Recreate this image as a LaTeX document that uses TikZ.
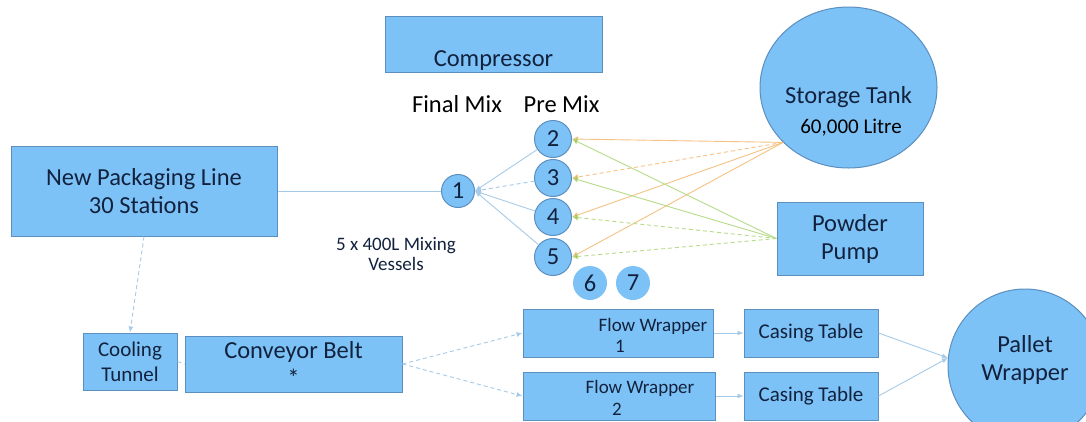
\documentclass[tikz,border=0pt]{standalone}
\usepackage{fontspec}
\setmainfont{Carlito}
\usetikzlibrary{arrows.meta, positioning, calc, shapes}
\definecolor{boxfill}{RGB}{125,194,246}
\definecolor{boxedge}{RGB}{92,142,190}
\definecolor{ink}{RGB}{18,34,62}
\definecolor{pipeblue}{RGB}{166,203,233}
\definecolor{feedorange}{RGB}{246,194,132}
\definecolor{feedgreen}{RGB}{182,220,136}
\definecolor{tipolive}{RGB}{176,184,60}
\newcommand{\sizeL}{\fontsize{24.5}{28}\selectfont}
\newcommand{\sizeM}{\fontsize{21}{25}\selectfont}
\newcommand{\sizeS}{\fontsize{19}{20}\selectfont}
\tikzset{
  unit/.style={draw=boxedge, fill=boxfill, line width=1pt, inner sep=0pt, text=ink, align=center},
  vessel/.style={circle, draw=boxedge, fill=boxfill, line width=1pt, inner sep=0pt, text=ink, font=\sizeL},
  spare/.style={circle, fill=boxfill, inner sep=0pt, minimum size=34pt, text=ink, font=\sizeL},
  txt/.style={inner sep=0pt, text=ink, align=center},
  pipe/.style={draw=pipeblue, line width=0.9pt},
  tip/.style={-{Latex[length=6pt, width=5pt]}},
  oline/.style={draw=feedorange, line width=0.9pt, -{Latex[length=6pt, width=6pt, fill=tipolive]}},
  gline/.style={draw=feedgreen, line width=0.9pt, -{Latex[length=6pt, width=6pt, fill=tipolive]}},
  dashed/.style={dash pattern=on 4pt off 3pt}
}
\begin{document}
\begin{tikzpicture}[x=1pt, y=-1pt]
  \fill[white] (0,0) rectangle (1086,421);
  \useasboundingbox (0,0) rectangle (1086,421);
  % Top units
  \node[unit, minimum width=217, minimum height=56] (comp) at (493.5,44) {};
  \node[txt, font=\sizeL, anchor=base] (comptxt) at (493.5,66) {Compressor};
  \node[unit, ellipse, minimum width=177, minimum height=161] (tank) at (848.5,87.5) {};
  \node[txt, font=\sizeL, anchor=base] (tanktxt) at (848.5,103) {Storage Tank};
  \node[txt, font=\sizeM, text=black, anchor=base] (tankvol) at (851,133) {60,000 Litre};
  \node[unit, font=\sizeL, minimum width=146, minimum height=73] (pump) at (850,238.5) {Powder\\Pump};
  \node[unit, font=\sizeL, minimum width=266, minimum height=90] (pack) at (144,191) {New Packaging Line\\30 Stations};
  % Mixing vessels
  \node[txt, font=\sizeL, text=black, anchor=base] (finalmix) at (457,112) {Final Mix};
  \node[txt, font=\sizeL, text=black, anchor=base] (premix) at (561.5,112) {Pre Mix};
  \node[vessel, minimum size=33pt] (v1) at (458,191) {1};
  \foreach \n/\y in {2/139, 3/178, 4/217, 5/257} {
    \node[vessel, minimum size=37pt] (v\n) at (553,\y) {\n};
  }
  \node[spare] (v6) at (590,283) {6};
  \node[spare] (v7) at (633,283) {7};
  \node[txt, font=\sizeS] (vesseltxt) at (396,254) {5 x 400L Mixing\\Vessels};
  % Line units
  \node[unit, font=\sizeM, minimum width=94, minimum height=57] (cool) at (130,361.5) {Cooling\\Tunnel};
  \node[unit, font=\sizeL, minimum width=217, minimum height=56] (conv) at (293.5,364) {Conveyor Belt\\*};
  \node[unit, minimum width=190, minimum height=48] (fw1) at (618,333) {};
  \node[txt, font=\sizeS, anchor=base] (fw1txt) at (653,331) {Flow Wrapper};
  \node[txt, font=\sizeS, anchor=base] (fw1num) at (620,352) {1};
  \node[unit, minimum width=192, minimum height=48] (fw2) at (619,396) {};
  \node[txt, font=\sizeS, anchor=base] (fw2txt) at (640,393) {Flow Wrapper};
  \node[txt, font=\sizeS, anchor=base] (fw2num) at (617,415) {2};
  \node[unit, font=\sizeM, minimum width=134, minimum height=48] (ct1) at (811,333) {Casing Table};
  \node[unit, font=\sizeM, minimum width=134, minimum height=48] (ct2) at (811,396) {Casing Table};
  \node[unit, circle, minimum size=154] (pallet) at (1025,366) {};
  \node[txt, font=\sizeL] (pallettxt) at (1025,360) {Pallet\\Wrapper};
  % Feeds into pre mix
  \foreach \n/\s in {2/solid, 3/dashed, 4/solid, 5/solid} {
    \draw[oline, \s] (tank.220) -- (v\n.east);
  }
  \foreach \n/\s in {2/solid, 3/solid, 4/dashed, 5/dashed} {
    \draw[gline, \s] (pump.west) -- (v\n.east);
  }
  % Pre mix to final mix
  \foreach \n/\s in {2/solid, 3/dashed, 4/solid, 5/solid} {
    \draw[pipe, tip, \s] (v\n) -- (v1.east);
  }
  \draw[pipe] (pack.east) -- (v1.west);
  % Packaging flow
  \draw[pipe, tip, dashed] (pack.south) -- (cool.north);
  \draw[pipe, dashed] (cool.east) -- (conv.west);
  \draw[pipe, tip, dashed] (conv.east) -- (fw1.west);
  \draw[pipe, tip, dashed] (conv.east) -- (fw2.west);
  \draw[pipe, tip] (fw1.east) -- (ct1.west);
  \draw[pipe, tip] (fw2.east) -- (ct2.west);
  \draw[pipe, tip] (ct1.east) -- (pallet.174);
  \draw[pipe, tip] (ct2.east) -- (pallet.174);
\end{tikzpicture}
\end{document}
